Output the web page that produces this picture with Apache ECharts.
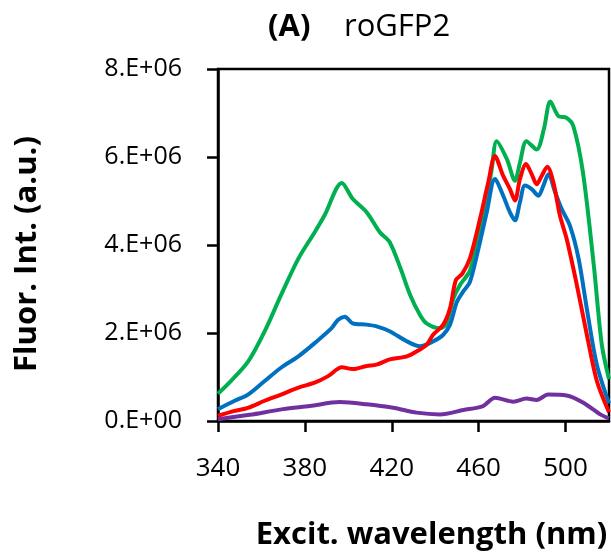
<!DOCTYPE html>
<html>
<head>
<meta charset="utf-8">
<script src="https://cdn.jsdelivr.net/npm/echarts@6/dist/echarts.min.js"></script>
<style>
  html, body { margin: 0; padding: 0; background: #fff; }
  #chart { width: 611px; height: 556px; }
</style>
</head>
<body>
<div id="chart"></div>
<script>
// excitation spectra (nm, intensity in units of 1E6)
var greenNm  = [340, 346, 354, 361.5, 369, 377, 384.5, 389, 397, 402, 408.5, 414.5, 419, 424, 428.5, 433, 436, 442, 445, 448.5, 451.5, 456, 462, 466, 468.3, 473, 476.7, 479, 482, 486.7, 490, 493, 496.7, 500.5, 503.6, 508, 513, 516.7, 520];
var greenVal = [0.62, 0.91, 1.36, 2.04, 2.86, 3.69, 4.29, 4.67, 5.41, 5.05, 4.74, 4.29, 4.07, 3.47, 2.86, 2.41, 2.22, 2.11, 2.2, 2.8, 3.1, 3.42, 4.59, 5.72, 6.36, 5.95, 5.46, 5.87, 6.36, 6.17, 6.63, 7.26, 6.93, 6.89, 6.7, 5.65, 3.54, 1.73, 0.95];

var blueNm  = [340, 347.7, 353.8, 361.5, 369, 377, 384.5, 392.3, 395.3, 398.4, 402, 408.4, 413, 419, 427, 433, 439, 443.7, 446.8, 450, 453, 456, 460.6, 463.7, 467.5, 471.3, 474.4, 476.7, 479, 481.3, 484.4, 487.5, 489.8, 492.1, 495.2, 498.2, 502, 506, 510, 514.4, 520];
var blueVal = [0.27, 0.46, 0.6, 0.91, 1.21, 1.47, 1.77, 2.11, 2.3, 2.37, 2.22, 2.19, 2.15, 2.04, 1.81, 1.7, 1.81, 1.96, 2.19, 2.71, 2.95, 3.16, 4.07, 4.74, 5.5, 5.12, 4.74, 4.56, 4.97, 5.35, 5.27, 5.12, 5.35, 5.61, 5.2, 4.82, 4.44, 3.69, 2.49, 1.28, 0.4];

var redNm  = [340, 347.7, 353.8, 361.5, 369, 377, 384.5, 390.7, 397, 402, 408.4, 413, 419, 427, 431.4, 436, 439, 443.7, 446.8, 449.5, 452.5, 456, 460.6, 464.4, 467.5, 471.3, 474.4, 476.7, 479, 481.8, 484.4, 486.7, 489, 491.6, 494.4, 497.4, 500.5, 505.2, 509.8, 514.4, 520];
var redVal = [0.12, 0.23, 0.3, 0.46, 0.6, 0.76, 0.87, 1.02, 1.22, 1.18, 1.25, 1.28, 1.4, 1.47, 1.58, 1.73, 1.96, 2.19, 2.56, 3.2, 3.35, 3.7, 4.59, 5.42, 6.02, 5.57, 5.27, 5.01, 5.5, 5.84, 5.61, 5.38, 5.57, 5.78, 5.42, 4.67, 4.14, 3.09, 1.96, 0.91, 0.2];

var purpleNm  = [340, 354.6, 370, 382.3, 396, 408.4, 420.6, 431.4, 442.2, 453, 462, 467.5, 476, 482, 486.7, 492, 500.5, 508, 516, 520];
var purpleVal = [0.04, 0.14, 0.27, 0.34, 0.43, 0.38, 0.3, 0.19, 0.15, 0.25, 0.34, 0.53, 0.44, 0.51, 0.48, 0.6, 0.58, 0.42, 0.15, 0.06];

var yTicks = ['0.E+00', '2.E+06', '4.E+06', '6.E+06', '8.E+06'];

function pairs(xs, ys) {
    var out = [];
    for (var i = 0; i < xs.length; i++) {
        out.push([xs[i], ys[i] * 1e6]);
    }
    return out;
}

function line(name, color, xs, ys) {
    return {
        name: name,
        type: 'line',
        data: pairs(xs, ys),
        showSymbol: false,
        smooth: 0.3,
        lineStyle: { color: color, width: 4 },
        itemStyle: { color: color },
        animation: false
    };
}

var font = 'Open Sans';
var chart = echarts.init(document.getElementById('chart'));

var option = {
    title: [
        {
            text: '(A)',
            left: 263,
            top: 7,
            textStyle: { fontFamily: font, fontWeight: 'bold', fontSize: 31, color: '#000' }
        },
        {
            text: 'roGFP2',
            left: 339,
            top: 7,
            textStyle: { fontFamily: font, fontWeight: 'normal', fontSize: 31, color: '#000' }
        }
    ],
    grid: {
        left: 218,
        right: 2,
        top: 69,
        bottom: 132,
        show: true,
        borderColor: '#000',
        borderWidth: 2.5
    },
    xAxis: {
        type: 'value',
        min: 340,
        max: 520,
        interval: 40,
        name: 'Excit. wavelength (nm)',
        nameLocation: 'middle',
        nameGap: 99,
        nameTextStyle: {
            fontFamily: font, fontWeight: 'bold', fontSize: 31, color: '#000',
            padding: [0, 0, 0, 36]
        },
        splitLine: { show: false },
        axisLine: { onZero: false, lineStyle: { color: '#000', width: 2.5 } },
        axisTick: { inside: false, length: 11, lineStyle: { color: '#000', width: 2.5 } },
        axisLabel: { margin: 35, fontFamily: font, fontSize: 26, color: '#000' }
    },
    yAxis: {
        type: 'value',
        min: 0,
        max: 8e6,
        interval: 2e6,
        name: 'Fluor. Int. (a.u.)',
        nameLocation: 'middle',
        nameGap: 175,
        nameTextStyle: {
            fontFamily: font, fontWeight: 'bold', fontSize: 31, color: '#000',
            padding: [0, 18, 0, 0]
        },
        splitLine: { show: false },
        axisLine: { lineStyle: { color: '#000', width: 2.5 } },
        axisTick: { inside: false, length: 11, lineStyle: { color: '#000', width: 2.5 } },
        axisLabel: {
            margin: 36, fontFamily: font, fontSize: 25, color: '#000',
            formatter: function (v) { return yTicks[Math.round(v / 2e6)]; }
        }
    },
    series: [
        line('purple', '#7030A0', purpleNm, purpleVal),
        line('green', '#00B050', greenNm, greenVal),
        line('blue', '#0070C0', blueNm, blueVal),
        line('red', '#FF0000', redNm, redVal)
    ]
};
chart.setOption(option);
</script>
</body>
</html>
